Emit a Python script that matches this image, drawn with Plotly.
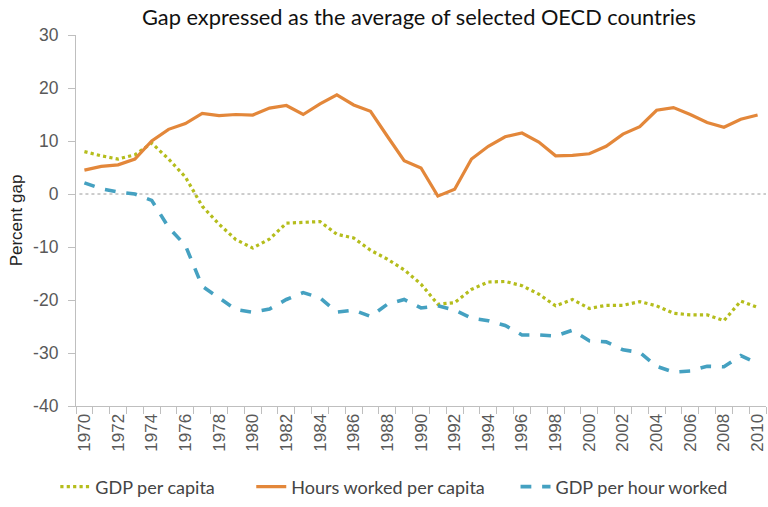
import plotly.graph_objects as go

years = list(range(1970, 2011))

gdp_per_capita = [8.0, 7.2, 6.6, 7.4, 9.6, 6.6, 3.2, -2.3, -5.7, -8.6,
                  -10.2, -8.5, -5.5, -5.4, -5.2, -7.6, -8.3, -10.6, -12.3, -14.3,
                  -17.0, -20.8, -20.5, -18.0, -16.6, -16.5, -17.3, -18.9, -21.1, -19.9,
                  -21.6, -21.0, -21.0, -20.3, -21.1, -22.5, -22.8, -22.8, -23.9, -20.2,
                  -21.4]

hours_per_capita = [4.5, 5.2, 5.5, 6.6, 10.0, 12.2, 13.3, 15.2, 14.8, 15.0,
                    14.9, 16.2, 16.7, 15.0, 17.0, 18.7, 16.8, 15.6, 10.9, 6.3,
                    4.9, -0.4, 0.9, 6.6, 9.0, 10.8, 11.5, 9.8, 7.2, 7.3,
                    7.6, 9.0, 11.3, 12.7, 15.8, 16.3, 15.0, 13.5, 12.6, 14.1,
                    14.9]

gdp_per_hour = [2.1, 1.0, 0.4, 0.0, -1.2, -6.3, -9.7, -17.4, -19.6, -21.8,
                -22.3, -21.7, -19.9, -18.6, -19.6, -22.3, -21.9, -23.1, -20.8, -19.9,
                -21.5, -21.1, -21.9, -23.4, -23.9, -24.8, -26.6, -26.6, -26.8, -25.7,
                -27.7, -27.9, -29.4, -29.9, -32.5, -33.6, -33.4, -32.5, -32.6, -30.5,
                -32.0]

x_tick_vals = list(range(1970, 2011, 2))
x_tick_labels = [str(y) for y in x_tick_vals]
y_tick_vals = [30, 20, 10, 0, -10, -20, -30, -40]
y_tick_labels = ["30", "20", "10", "0", "-10", "-20", "-30", "-40"]

fig = go.Figure()
fig.add_trace(go.Scatter(x=years, y=gdp_per_capita, mode="lines", name="GDP per capita",
                         line=dict(color="#B5BD1C", width=3.2, dash="dot"), legend="legend"))
fig.add_trace(go.Scatter(x=years, y=hours_per_capita, mode="lines", name="Hours worked per capita",
                         line=dict(color="#E3873A", width=3.2), legend="legend2"))
fig.add_trace(go.Scatter(x=years, y=gdp_per_hour, mode="lines", name="GDP per hour worked",
                         line=dict(color="#45A1C1", width=3.6, dash="dash"), legend="legend3"))

fig.add_shape(type="line", xref="paper", yref="y", x0=0.005, x1=1, y0=0, y1=0,
              line=dict(color="#9A9A9A", width=1, dash="dot"), layer="below")

legend_font = dict(family="Lato", size=18, color="#444444")
common_legend = dict(orientation="h", xanchor="left", y=-0.218, yanchor="middle",
                     font=legend_font, bgcolor="rgba(0,0,0,0)")

fig.update_layout(
    width=768, height=507,
    margin=dict(l=76, r=2, t=35, b=94),
    paper_bgcolor="white", plot_bgcolor="white",
    title=dict(text="Gap expressed as the average of selected OECD countries",
               x=0.5456, xanchor="center", y=0.965, yanchor="middle",
               font=dict(family="Lato", size=21.8, color="#111111")),
    showlegend=True,
    legend=dict(x=-0.030, **common_legend),
    legend2=dict(x=0.254, **common_legend),
    legend3=dict(x=0.637, **common_legend),
    xaxis=dict(range=[1969.5, 2010.5], tickmode="array",
               tickvals=x_tick_vals, ticktext=x_tick_labels,
               tickangle=-90, ticks="outside", ticklen=0, tickcolor="rgba(0,0,0,0)",
               minor=dict(ticks="outside", tick0=1969.5, dtick=1, ticklen=7,
                          tickcolor="#BFBFBF", showgrid=False),
               showline=True, linecolor="#BFBFBF", linewidth=1.2,
               showgrid=False, zeroline=False, automargin=False,
               tickfont=dict(family="Liberation Sans", size=17, color="#595959")),
    yaxis=dict(range=[-40, 30], tickmode="array", tickvals=y_tick_vals, ticktext=y_tick_labels,
               ticks="outside", ticklen=7, tickcolor="#BFBFBF", ticklabelstandoff=6,
               showline=True, linecolor="#BFBFBF", linewidth=1.2,
               showgrid=False, zeroline=False, automargin=False,
               title=dict(text="Percent gap", standoff=6,
                          font=dict(family="Liberation Sans", size=17, color="#222222")),
               tickfont=dict(family="Liberation Sans", size=17.5, color="#595959")),
)

fig.write_html("out.html", config={"displayModeBar": False},
               post_script="document.body.style.margin='0px';")
